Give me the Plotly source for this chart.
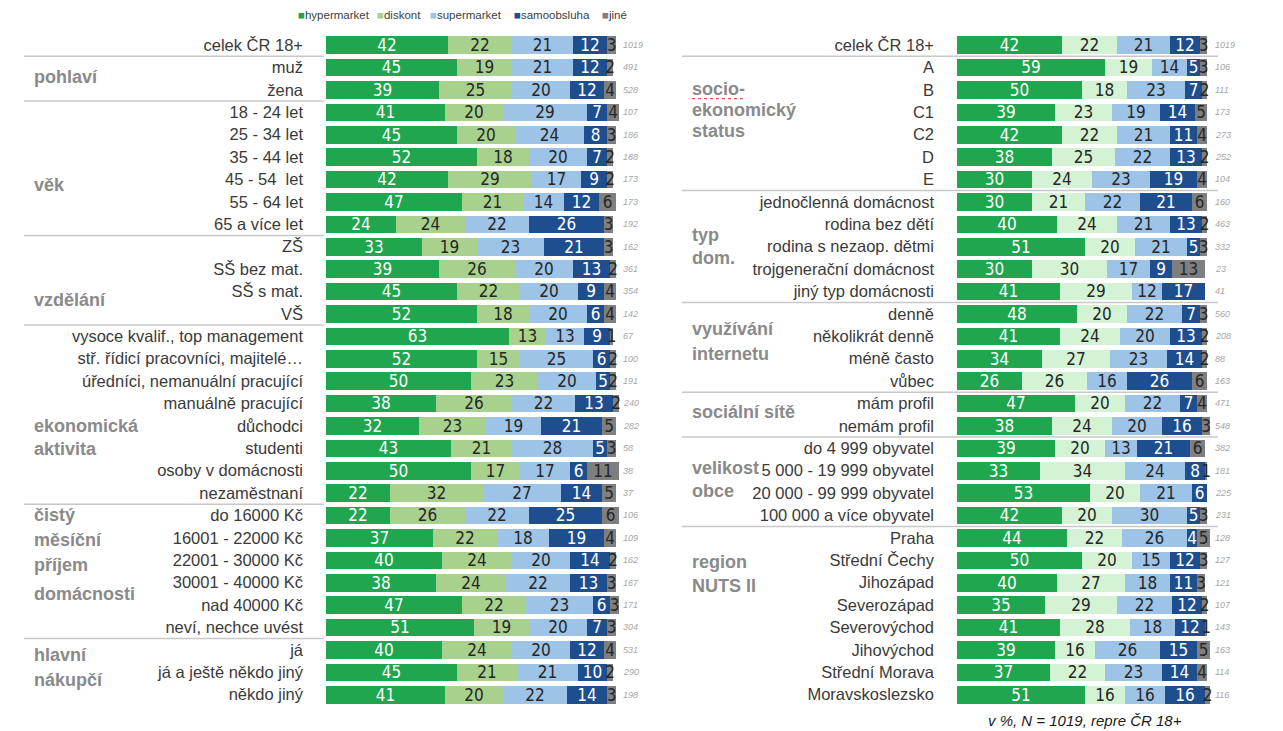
import plotly.graph_objects as go

W, H = 1283, 731

series = ["hypermarket", "diskont", "supermarket", "samoobsluha", "jiné"]

left_rows = ["celek ČR 18+", "muž", "žena", "18 - 24 let", "25 - 34 let", "35 - 44 let",
             "45 - 54  let", "55 - 64 let", "65 a více let", "ZŠ", "SŠ bez mat.", "SŠ s mat.", "VŠ",
             "vysoce kvalif., top management", "stř. řídicí pracovníci, majitelé…",
             "úředníci, nemanuální pracující", "manuálně pracující", "důchodci", "studenti",
             "osoby v domácnosti", "nezaměstnaní", "do 16000 Kč", "16001 - 22000 Kč",
             "22001 - 30000 Kč", "30001 - 40000 Kč", "nad 40000 Kč", "neví, nechce uvést",
             "já", "já a ještě někdo jiný", "někdo jiný"]
left_hyper = [42, 45, 39, 41, 45, 52, 42, 47, 24, 33, 39, 45, 52, 63, 52, 50, 38, 32, 43, 50, 22,
              22, 37, 40, 38, 47, 51, 40, 45, 41]
left_disk = [22, 19, 25, 20, 20, 18, 29, 21, 24, 19, 26, 22, 18, 13, 15, 23, 26, 23, 21, 17, 32,
             26, 22, 24, 24, 22, 19, 24, 21, 20]
left_super = [21, 21, 20, 29, 24, 20, 17, 14, 22, 23, 20, 20, 20, 13, 25, 20, 22, 19, 28, 17, 27,
              22, 18, 20, 22, 23, 20, 20, 21, 22]
left_samo = [12, 12, 12, 7, 8, 7, 9, 12, 26, 21, 13, 9, 6, 9, 6, 5, 13, 21, 5, 6, 14,
             25, 19, 14, 13, 6, 7, 12, 10, 14]
left_jine = [3, 2, 4, 4, 3, 2, 2, 6, 3, 3, 2, 4, 4, 1, 2, 2, 2, 5, 3, 11, 5,
             6, 4, 2, 3, 3, 3, 4, 2, 3]
left_n = [1019, 491, 528, 107, 186, 188, 173, 173, 192, 162, 361, 354, 142, 67, 100, 191, 240,
          282, 58, 38, 37, 106, 109, 162, 167, 171, 304, 531, 290, 198]

right_rows = ["celek ČR 18+", "A", "B", "C1", "C2", "D", "E", "jednočlenná domácnost",
              "rodina bez dětí", "rodina s nezaop. dětmi", "trojgenerační domácnost",
              "jiný typ domácnosti", "denně", "několikrát denně", "méně často", "vůbec",
              "mám profil", "nemám profil", "do 4 999 obyvatel", "5 000 - 19 999 obyvatel",
              "20 000 - 99 999 obyvatel", "100 000 a více obyvatel", "Praha", "Střední Čechy",
              "Jihozápad", "Severozápad", "Severovýchod", "Jihovýchod", "Střední Morava",
              "Moravskoslezsko"]
right_hyper = [42, 59, 50, 39, 42, 38, 30, 30, 40, 51, 30, 41, 48, 41, 34, 26, 47, 38, 39, 33,
               53, 42, 44, 50, 40, 35, 41, 39, 37, 51]
right_disk = [22, 19, 18, 23, 22, 25, 24, 21, 24, 20, 30, 29, 20, 24, 27, 26, 20, 24, 20, 34,
              20, 20, 22, 20, 27, 29, 28, 16, 22, 16]
right_super = [21, 14, 23, 19, 21, 22, 23, 22, 21, 21, 17, 12, 22, 20, 23, 16, 22, 20, 13, 24,
               21, 30, 26, 15, 18, 22, 18, 26, 23, 16]
right_samo = [12, 5, 7, 14, 11, 13, 19, 21, 13, 5, 9, 17, 7, 13, 14, 26, 7, 16, 21, 8,
              6, 5, 4, 12, 11, 12, 12, 15, 14, 16]
right_jine = [3, 3, 2, 5, 4, 2, 4, 6, 2, 3, 13, 0, 3, 2, 2, 6, 4, 3, 6, 1,
              0, 3, 5, 3, 3, 2, 1, 5, 4, 2]
right_n = [1019, 106, 111, 173, 273, 252, 104, 160, 463, 332, 23, 41, 560, 208, 88, 163, 471,
           548, 382, 181, 225, 231, 128, 127, 121, 107, 143, 163, 114, 116]

# group captions with their vertical position in row units
left_groups = [("pohlaví", 1.45), ("věk", 6.25), ("vzdělání", 11.4),
               ("ekonomická", 17.0), ("aktivita", 18.05),
               ("čistý", 21.0), ("měsíční", 22.1), ("příjem", 23.2), ("domácnosti", 24.5),
               ("hlavní", 27.25), ("nákupčí", 28.35)]
right_groups = [("socio-", 1.95), ("ekonomický", 2.9), ("status", 3.85),
                ("typ", 8.5), ("dom.", 9.5), ("využívání", 12.7), ("internetu", 13.8),
                ("sociální sítě", 16.4), ("velikost", 18.9), ("obce", 19.9),
                ("region", 23.1), ("NUTS II", 24.15)]
left_breaks = [0, 2, 8, 12, 20, 26]
right_breaks = [0, 6, 11, 15, 17, 21]

colors_left = ["#1fa64f", "#a9d18e", "#9dc3e6", "#1f4e8f", "#7f7f7f"]
colors_right = ["#1fa64f", "#d4f3d4", "#9dc3e6", "#1f4e8f", "#7f7f7f"]
text_colors = ["white", "#262626", "#262626", "white", "#262626"]

# pixel layout helpers
row0, row_step = 45.0, 22.4
y_top = row0 - row_step / 2
y_bot = y_top + 30 * row_step
L0, LS = 326.0, 2.9
R0, RS = 957.0, 2.5
XMAX = 103

fig = go.Figure()

def add_panel(values, colors, xa, ya):
    idx = list(range(30))
    for k, name in enumerate(series):
        fig.add_trace(go.Bar(
            x=values[k], y=idx, orientation="h", name=name,
            marker=dict(color=colors[k], line=dict(width=0)),
            width=0.78, text=[str(v) if v else "" for v in values[k]],
            textposition="inside", insidetextanchor="middle", textangle=0,
            textfont=dict(color=text_colors[k], size=17,
                          family="Liberation Sans Narrow, DejaVu Sans Condensed, Arial Narrow, Liberation Sans"),
            xaxis=xa, yaxis=ya, showlegend=False, hoverinfo="skip"))

add_panel([left_hyper, left_disk, left_super, left_samo, left_jine], colors_left, "x", "y")
add_panel([right_hyper, right_disk, right_super, right_samo, right_jine], colors_right, "x2", "y2")

ydom = [1 - y_bot / H, 1 - y_top / H]
tickfont = dict(size=16.5, color="#3a3a3a", family="Liberation Sans, Arial")

fig.update_layout(
    width=W, height=H, margin=dict(l=0, r=0, t=0, b=0),
    paper_bgcolor="white", plot_bgcolor="rgba(0,0,0,0)",
    barmode="stack", bargap=0,
    uniformtext=dict(minsize=17, mode="show"),
    xaxis=dict(domain=[L0 / W, (L0 + LS * XMAX) / W], range=[0, XMAX], visible=False),
    xaxis2=dict(domain=[R0 / W, (R0 + RS * XMAX) / W], range=[0, XMAX], visible=False,
                anchor="y2"),
    yaxis=dict(domain=ydom, range=[29.5, -0.5], tickvals=list(range(30)), ticktext=left_rows,
               showgrid=False, zeroline=False, showline=False, ticks="",
               ticklabelstandoff=22, tickfont=tickfont, anchor="x"),
    yaxis2=dict(domain=ydom, range=[29.5, -0.5], tickvals=list(range(30)), ticktext=right_rows,
                showgrid=False, zeroline=False, showline=False, ticks="",
                ticklabelstandoff=22, tickfont=tickfont, anchor="x2"),
)

def ypx(i):
    return 1 - (row0 + i * row_step) / H

shapes = []
for b in left_breaks:
    yy = 1 - (row0 + (b + 0.5) * row_step) / H
    shapes.append(dict(type="line", xref="paper", yref="paper", x0=24 / W, x1=324 / W,
                       y0=yy, y1=yy, line=dict(color="#c8c8c8", width=1.5), layer="below"))
for b in right_breaks:
    yy = 1 - (row0 + (b + 0.5) * row_step) / H
    shapes.append(dict(type="line", xref="paper", yref="paper", x0=682 / W, x1=1218 / W,
                       y0=yy, y1=yy, line=dict(color="#c8c8c8", width=1.5), layer="below"))
# spell-check squiggle under "socio-"
sq_y = 1 - (row0 + 1.95 * row_step + 10) / H
shapes.append(dict(type="line", xref="paper", yref="paper", x0=692 / W, x1=744 / W,
                   y0=sq_y, y1=sq_y, line=dict(color="#e05050", width=1.2, dash="dot")))
fig.update_layout(shapes=shapes)

ann = []
group_font = dict(size=18, color="#8a8a8a", family="Liberation Sans, Arial", weight="bold")
for text, pos in left_groups:
    ann.append(dict(x=32 / W, y=ypx(pos), xref="paper", yref="paper", text=text,
                    showarrow=False, xanchor="left", yanchor="middle", font=group_font))
for text, pos in right_groups:
    ann.append(dict(x=690 / W, y=ypx(pos), xref="paper", yref="paper", text=text,
                    showarrow=False, xanchor="left", yanchor="middle", font=group_font))

n_font = dict(size=9, color="#a6a6a6", family="Liberation Sans, Arial")
for i, n in enumerate(left_n):
    ann.append(dict(x=(L0 + LS * 100 + 5) / W, y=ypx(i), xref="paper", yref="paper",
                    text=f"<i>{n}</i>", showarrow=False, xanchor="left", yanchor="middle",
                    font=n_font))
for i, n in enumerate(right_n):
    ann.append(dict(x=(R0 + RS * 100 + 6) / W, y=ypx(i), xref="paper", yref="paper",
                    text=f"<i>{n}</i>", showarrow=False, xanchor="left", yanchor="middle",
                    font=n_font))

# legend row
legend_x = [296, 375, 428, 512, 600]
for k, name in enumerate(series):
    ann.append(dict(x=legend_x[k] / W, y=1 - 15 / H, xref="paper", yref="paper",
                    text=f"<span style='color:{colors_left[k]}'>■</span>{name}",
                    showarrow=False, xanchor="left", yanchor="middle",
                    font=dict(size=11.5, color="#404040", family="Liberation Sans, Arial")))

ann.append(dict(x=1085 / W, y=1 - 720 / H, xref="paper", yref="paper",
                text="<i>v %, N = 1019, repre ČR 18+</i>", showarrow=False,
                xanchor="center", yanchor="middle",
                font=dict(size=15, color="#1a1a1a", family="Liberation Sans, Arial")))

fig.update_layout(annotations=ann)
fig.write_html("out.html")
